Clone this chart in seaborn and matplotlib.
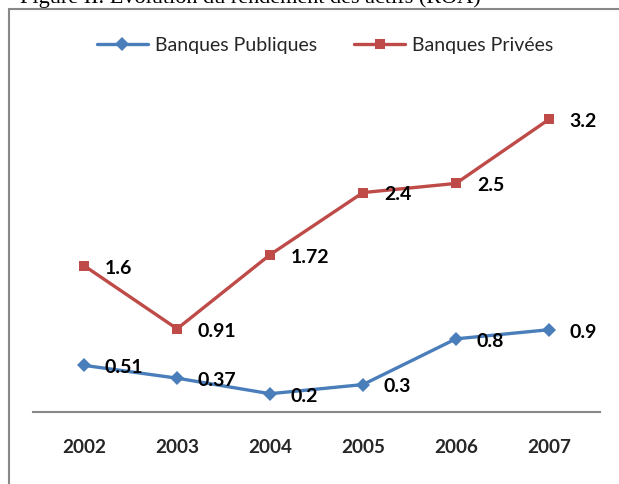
import matplotlib
matplotlib.use("Agg")
import matplotlib.pyplot as plt
from matplotlib.lines import Line2D
import seaborn as sns
import pandas as pd

sns.set_theme(style="white")
plt.rcParams["font.family"] = ["Lato", "DejaVu Sans"]

# data
years = ["2002", "2003", "2004", "2005", "2006", "2007"]
publiques = [0.51, 0.37, 0.2, 0.3, 0.8, 0.9]
privees = [1.6, 0.91, 1.72, 2.4, 2.5, 3.2]
series_names = ["Banques Publiques", "Banques Privées"]

df = pd.DataFrame({
    "annee": years * 2,
    "roa": publiques + privees,
    "serie": [series_names[0]] * len(years) + [series_names[1]] * len(years),
})

BLUE = "#4A7EBB"
RED = "#BE4B48"

fig = plt.figure(figsize=(6.19, 4.85), dpi=100)
ax = fig.add_axes([33 / 619, 1 - 413 / 485, 567 / 619, 320 / 485])

sns.lineplot(data=df, x="annee", y="roa", hue="serie", style="serie",
             palette=[BLUE, RED], markers=["D", "s"], dashes=False,
             markersize=7, markeredgewidth=0, linewidth=2.4, ax=ax, legend=False)

ax.set_xlim(-0.55, 5.55)
ax.set_ylim(0, 3.5)
ax.set_xlabel("")
ax.set_ylabel("")
ax.set_yticks([])
for s in ["top", "right", "left"]:
    ax.spines[s].set_visible(False)
ax.spines["bottom"].set_color("#888888")
ax.spines["bottom"].set_linewidth(1.5)
ax.tick_params(axis="x", length=0, pad=19, labelsize=13.6)
for lbl in ax.get_xticklabels():
    lbl.set_fontweight("bold")

# data labels
for vals in (publiques, privees):
    for i, v in enumerate(vals):
        ax.annotate(f"{v:g}", (i, v), xytext=(15, -1), textcoords="offset points",
                    ha="left", va="center", fontsize=14, fontweight="bold", color="black")

handles = [
    Line2D([], [], color=BLUE, lw=2.4, marker="D", markersize=7, markeredgewidth=0),
    Line2D([], [], color=RED, lw=2.4, marker="s", markersize=7, markeredgewidth=0),
]
fig.legend(handles, series_names, loc="center", bbox_to_anchor=(325 / 619, 1 - 46 / 485),
           ncol=2, frameon=False, fontsize=14, handlelength=2.64, handletextpad=0.35,
           columnspacing=1.9, borderpad=0)

# chart frame (left and top edges visible)
fig.add_artist(Line2D([9 / 619, 9 / 619], [0, 1 - 10 / 485], transform=fig.transFigure,
                      color="#888888", lw=1.5))
fig.add_artist(Line2D([9 / 619, 1], [1 - 10 / 485, 1 - 10 / 485], transform=fig.transFigure,
                      color="#888888", lw=1.5))

fig.text(20 / 619, 1 - 3 / 485, "Figure II. Evolution du rendement des actifs (ROA)",
         family="Liberation Serif", fontsize=16, va="baseline", ha="left", color="black")

plt.savefig("out.png", dpi=100)
